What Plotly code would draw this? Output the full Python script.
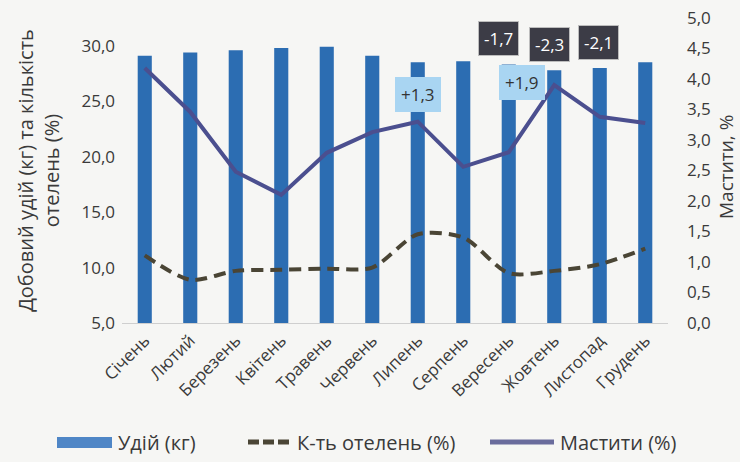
import plotly.graph_objects as go

months = ["Січень", "Лютий", "Березень", "Квітень", "Травень", "Червень",
          "Липень", "Серпень", "Вересень", "Жовтень", "Листопад", "Грудень"]
milk_kg = [29.1, 29.4, 29.6, 29.8, 29.9, 29.1, 28.5, 28.6, 28.3, 27.8, 28.0, 28.5]
calving_pct = [11.1, 8.9, 9.7, 9.8, 9.9, 10.0, 13.0, 12.7, 9.5, 9.7, 10.3, 11.7]
mastitis_pct = [4.18, 3.46, 2.48, 2.10, 2.79, 3.13, 3.30, 2.56, 2.80, 3.90, 3.38, 3.28]

left_ticks = [5, 10, 15, 20, 25, 30]
right_ticks = [0, 0.5, 1, 1.5, 2, 2.5, 3, 3.5, 4, 4.5, 5]

series_names = ["Удій (кг)", "К-ть отелень (%)", "Мастити (%)"]

# change labels: text, category position, right-axis level, style
note_text = ["+1,3", "-1,7", "-2,3", "-2,1", "+1,9"]
note_x = [6.0, 7.78, 8.9, 9.97, 8.3]
note_y = [3.74, 4.66, 4.56, 4.60, 3.95]
note_dark = [False, True, True, True, False]

font_family = "Open Sans"
text_col = "#3a3a3a"
bar_col = "#2c6db2"
calv_col = "#4a4535"
mast_col = "#4b4f8f"

# plot area in pixels (for placing the hand-drawn legend in paper coords)
L, R, T, B = 122, 668, 18, 323
def px(xp):
    return (xp - L) / (R - L)
def py(yp):
    return (B - yp) / (B - T)

fig = go.Figure()
fig.add_trace(go.Bar(
    x=months, y=milk_kg, name=series_names[0], marker_color=bar_col,
    marker_line_width=0, width=0.31, yaxis="y", showlegend=False))
fig.add_trace(go.Scatter(
    x=months, y=calving_pct, name=series_names[1], mode="lines",
    line=dict(color=calv_col, width=4, dash="12px,7px", shape="spline", smoothing=0.8),
    yaxis="y", showlegend=False))
fig.add_trace(go.Scatter(
    x=months, y=mastitis_pct, name=series_names[2], mode="lines",
    line=dict(color=mast_col, width=4), yaxis="y2", showlegend=False))

annotations = []
for t, xx, yy, dark in zip(note_text, note_x, note_y, note_dark):
    annotations.append(dict(
        x=xx, y=yy, xref="x", yref="y2", text=t, showarrow=False,
        font=dict(family=font_family, size=17, color="#ffffff" if dark else "#333333"),
        bgcolor="#3c3c46" if dark else "#a9d5f2",
        bordercolor="#bdbdbd" if dark else "#a9d5f2", borderwidth=1, borderpad=5))

# right axis title
annotations.append(dict(
    x=px(726), y=py(167), xref="paper", yref="paper", text="Мастити, %",
    textangle=-90, showarrow=False, xanchor="center", yanchor="middle",
    font=dict(family=font_family, size=19, color=text_col)))

# hand-drawn legend (wide swatches as in the reference)
leg_y = 442
shapes = [
    dict(type="rect", xref="paper", yref="paper", x0=px(57), x1=px(112),
         y0=py(437), y1=py(448), fillcolor="#4f86c6", line=dict(width=0)),
    dict(type="line", xref="paper", yref="paper", x0=px(248), x1=px(291),
         y0=py(leg_y), y1=py(leg_y), line=dict(color=calv_col, width=5, dash="11px,4px")),
    dict(type="line", xref="paper", yref="paper", x0=px(490), x1=px(554),
         y0=py(leg_y), y1=py(leg_y), line=dict(color="#6a6c9c", width=5)),
]
for name, xl in zip(series_names, [116, 295, 558]):
    annotations.append(dict(
        x=px(xl), y=py(leg_y), xref="paper", yref="paper", text=name,
        showarrow=False, xanchor="left", yanchor="middle",
        font=dict(family=font_family, size=20, color=text_col)))

fig.update_layout(
    width=740, height=462,
    margin=dict(l=L, r=740 - R, t=T, b=462 - B),
    paper_bgcolor="#f6f6f4", plot_bgcolor="#f6f6f4",
    separators=", ",
    font=dict(family=font_family, size=16, color=text_col),
    showlegend=False,
    xaxis=dict(type="category", range=[-0.5, 11.5], tickangle=-45, automargin=False,
               showgrid=False, showline=True, linecolor="#cfcfcf", linewidth=1,
               ticks="", tickfont=dict(size=17)),
    yaxis=dict(range=[5, 32.5], tickvals=left_ticks, tickformat=".1f", automargin=False,
               showgrid=False, zeroline=False, showline=False, ticks="",
               ticklabelstandoff=6, tickfont=dict(size=17),
               title=dict(text="Добовий удій (кг) та кількість<br>отелень (%)",
                          font=dict(size=20), standoff=16)),
    yaxis2=dict(range=[0, 5.0], tickvals=right_ticks, tickformat=".1f", automargin=False,
                overlaying="y", side="right", showgrid=False, zeroline=False,
                showline=False, ticks="", ticklabelstandoff=18, tickfont=dict(size=17)),
    annotations=annotations,
    shapes=shapes,
)

fig.write_html("out.html")
